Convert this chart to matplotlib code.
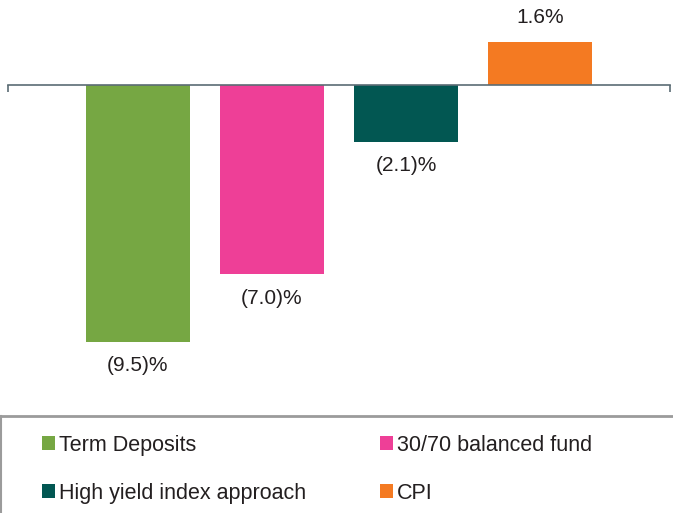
import matplotlib
matplotlib.use("Agg")
import matplotlib.pyplot as plt
from matplotlib.lines import Line2D

# ─── data ─────────────────────────────────────────────
categories = ["Term Deposits", "30/70 balanced fund",
              "High yield index approach", "CPI"]
values = [-9.5, -7.0, -2.1, 1.6]
value_labels = ["(9.5)%", "(7.0)%", "(2.1)%", "1.6%"]
colors = ["#76A743", "#EE3F97", "#025752", "#F47A22"]

plt.rcParams.update({
    "font.family": ["Liberation Sans", "DejaVu Sans"],
    "text.color": "#231F20",
})

W, H = 673, 513
fig = plt.figure(figsize=(W / 100, H / 100), dpi=100)


def px_box(left, top, right, bottom):
    return [left / W, 1 - bottom / H, (right - left) / W, (bottom - top) / H]


# ─── bars ─────────────────────────────────────────────
ax = fig.add_axes(px_box(8, 0, 670, 400))
x = list(range(len(values)))
bars = ax.bar(x, values, width=0.776, color=colors, label=categories, zorder=2)

ax.set_xlim(-0.97, 3.97)
ax.set_ylim(-400 / 27 + 85 / 27, 85 / 27)

for s in ["top", "right", "left"]:
    ax.spines[s].set_visible(False)
ax.spines["bottom"].set_position(("data", 0))
ax.spines["bottom"].set_color("#5B6C74")
ax.spines["bottom"].set_linewidth(1.2)
ax.spines["bottom"].set_zorder(3)
ax.set_xticks([-0.97, 3.97])
ax.set_xticklabels([])
ax.tick_params(axis="x", direction="out", length=5, width=1.2, color="#5B6C74")
ax.set_yticks([])

for b, v, lab in zip(bars, values, value_labels):
    off = 24 if v > 0 else -24
    ax.annotate(lab, (b.get_x() + b.get_width() / 2, v),
                textcoords="offset pixels", xytext=(0, off),
                ha="center", va="center", fontsize=15, color="#231F20")

# ─── legend box (only top and left edges show) ────────
y_top = 1 - 416 / H
fig.add_artist(Line2D([0, 1], [y_top, y_top], transform=fig.transFigure,
                      color="#9B9B9B", linewidth=2))
fig.add_artist(Line2D([0.5 / W, 0.5 / W], [0, y_top], transform=fig.transFigure,
                      color="#9B9B9B", linewidth=1.5))

# legend fills column by column; reorder so rows read left to right
order = [0, 2, 1, 3]
leg = fig.legend(handles=[bars[i] for i in order],
                 labels=[categories[i] for i in order], ncol=2,
                 loc="upper left", bbox_to_anchor=(33 / W, 1 - 426 / H),
                 frameon=False, fontsize=15.5,
                 handlelength=0.62, handleheight=0.62, handletextpad=0.2,
                 labelspacing=1.25, columnspacing=3.4,
                 borderaxespad=0)

fig.savefig("out.png", dpi=100)
